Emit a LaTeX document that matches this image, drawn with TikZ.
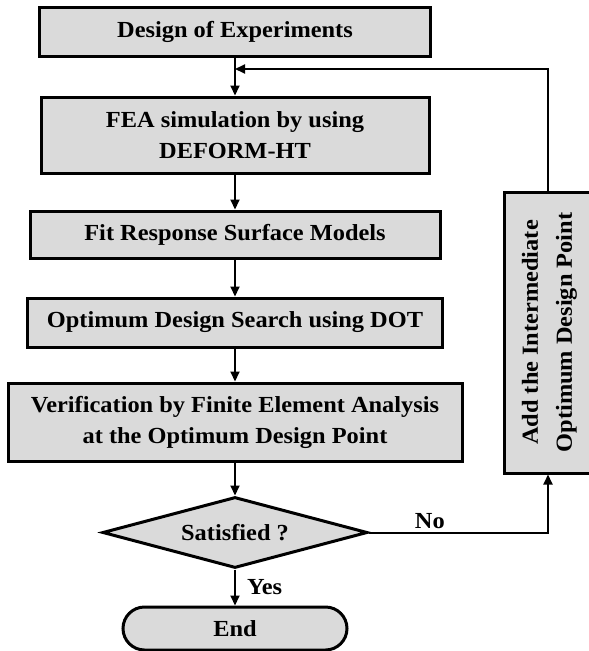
\documentclass[tikz,border=0pt]{standalone}
\usepackage{fontspec}
\setmainfont{Liberation Serif}[FakeStretch=1.06]
\usetikzlibrary{positioning,shapes.geometric,shapes.misc,arrows.meta}
\definecolor{boxgray}{RGB}{218,218,218}
\begin{document}
\begin{tikzpicture}[x=1pt,y=-1pt,
  proc/.style={draw,line width=3pt,fill=boxgray,inner sep=0pt,align=center,
    font=\fontsize{23}{31}\selectfont\bfseries},
  flow/.style={line width=2pt,-{Triangle[length=10pt,width=9pt]}},
  lbl/.style={font=\fontsize{23}{26}\selectfont\bfseries,inner sep=1pt}]
  \useasboundingbox (0,0) rectangle (589,651);
  \clip (0,0) rectangle (589,651);
  \node[proc,minimum width=391,minimum height=49] (doe) at (235,31.5) {Design of Experiments};
  \node[proc,minimum width=388,minimum height=76] (fea) at (235,135) {FEA simulation by using\\DEFORM-HT};
  \node[proc,minimum width=410,minimum height=47] (rsm) at (235,234.5) {Fit Response Surface Models};
  \node[proc,minimum width=415,minimum height=49] (dot) at (235,322.5) {Optimum Design Search using DOT};
  \node[proc,minimum width=454,minimum height=78] (fev) at (235,422) {Verification by Finite Element Analysis\\at the Optimum Design Point};
  \node[proc,diamond,aspect=3.7,minimum width=265,minimum height=71] (sat) at (235,532.5) {Satisfied ?};
  \node[proc,rounded rectangle,minimum width=224,minimum height=43] (end) at (235,628.5) {End};
  \node[proc,minimum width=88,minimum height=281] (addpt) at (548,332.5)
    {\rotatebox{90}{\def\arraystretch{1.1}\begin{tabular}{@{}c@{}}Add the Intermediate\\Optimum Design Point\end{tabular}}};
  \coordinate (join) at (235,69);
  \draw[flow] (doe) -- (fea);
  \draw[flow] (fea) -- (rsm);
  \draw[flow] (rsm) -- (dot);
  \draw[flow] (dot) -- (fev);
  \draw[flow] (fev) -- (sat);
  \draw[flow] (sat) -- node[lbl,right=10pt] {Yes} (end);
  \draw[flow] (sat.east) -| node[lbl,above=2pt,pos=0.17] {No} (addpt.south);
  \draw[flow] (addpt.north) |- (join);
\end{tikzpicture}
\end{document}
